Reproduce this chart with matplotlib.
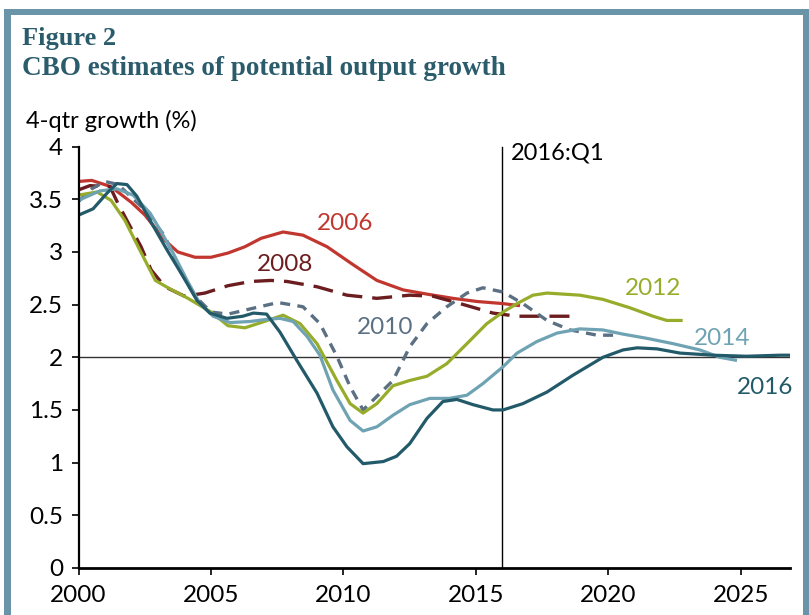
import numpy as np
import matplotlib
matplotlib.use("Agg")
import matplotlib.pyplot as plt
from matplotlib.patches import Rectangle

# CBO potential output growth vintages (4-qtr growth, %)
years_2006 = [2000.0, 2000.5, 2001.23, 2002.0, 2002.51, 2003.26, 2003.75, 2004.4, 2005.0, 2005.64,
              2006.28, 2006.89, 2007.72, 2008.47, 2009.38, 2010.36, 2011.26, 2012.25, 2013.15,
              2014.13, 2015.04, 2016.02, 2016.66]
vals_2006 = [3.67, 3.68, 3.62, 3.47, 3.35, 3.11, 3.00, 2.95, 2.95, 2.99,
             3.05, 3.13, 3.19, 3.16, 3.05, 2.88, 2.73, 2.64, 2.60,
             2.56, 2.53, 2.51, 2.49]

years_2008 = [2000.0, 2000.43, 2001.19, 2001.49, 2001.87, 2002.36, 2002.74, 2003.26, 2004.0, 2004.77,
              2005.64, 2006.5, 2007.26, 2007.87, 2009.0, 2010.13, 2011.26, 2012.5, 2013.38,
              2014.4, 2015.64, 2016.55, 2018.85]
vals_2008 = [3.59, 3.63, 3.62, 3.46, 3.28, 3.05, 2.83, 2.67, 2.58, 2.61,
             2.68, 2.72, 2.73, 2.72, 2.67, 2.59, 2.56, 2.59, 2.58,
             2.51, 2.42, 2.39, 2.39]

years_2010 = [2000.0, 2000.5, 2001.0, 2001.5, 2002.5, 2003.26, 2003.75, 2004.4, 2005.0, 2005.64,
              2006.66, 2007.53, 2008.47, 2009.11, 2009.75, 2010.25, 2010.74, 2011.87, 2012.5,
              2013.15, 2013.9, 2014.66, 2015.26, 2016.02, 2016.77, 2017.68, 2018.55, 2019.57, 2020.43]
vals_2010 = [3.48, 3.60, 3.67, 3.64, 3.40, 3.15, 2.86, 2.58, 2.43, 2.41,
             2.47, 2.52, 2.48, 2.32, 2.01, 1.72, 1.50, 1.78, 2.10,
             2.32, 2.48, 2.61, 2.66, 2.62, 2.51, 2.35, 2.26, 2.21, 2.21]

years_2012 = [2000.0, 2000.7, 2001.23, 2001.75, 2002.25, 2002.9, 2003.38, 2004.13, 2005.0, 2005.64,
              2006.28, 2006.89, 2007.72, 2008.36, 2009.0, 2009.75, 2010.25, 2010.74, 2011.26,
              2011.87, 2012.5, 2013.15, 2013.9, 2014.66, 2015.41, 2016.02, 2016.55, 2017.15,
              2017.68, 2018.92, 2019.79, 2020.81, 2021.68, 2022.2, 2022.8]
vals_2012 = [3.54, 3.57, 3.49, 3.30, 3.05, 2.73, 2.66, 2.56, 2.43, 2.30,
             2.28, 2.33, 2.40, 2.32, 2.13, 1.78, 1.56, 1.47, 1.56,
             1.73, 1.78, 1.82, 1.94, 2.13, 2.32, 2.43, 2.51, 2.59,
             2.61, 2.59, 2.55, 2.47, 2.39, 2.35, 2.35]

years_2014 = [2000.0, 2000.8, 2001.45, 2002.06, 2002.7, 2003.08, 2003.57, 2004.1, 2004.58, 2005.08,
              2005.72, 2006.47, 2007.1, 2007.6, 2008.1, 2008.62, 2009.11, 2009.6, 2010.25,
              2010.74, 2011.26, 2011.87, 2012.5, 2013.26, 2014.0, 2014.66, 2015.26, 2016.02,
              2016.55, 2017.3, 2018.06, 2018.92, 2019.79, 2020.55, 2021.45, 2022.43, 2023.45,
              2024.2, 2024.85]
vals_2014 = [3.49, 3.58, 3.60, 3.54, 3.37, 3.21, 2.99, 2.73, 2.51, 2.39,
             2.33, 2.34, 2.36, 2.37, 2.34, 2.20, 2.02, 1.69, 1.40,
             1.30, 1.34, 1.45, 1.55, 1.61, 1.61, 1.64, 1.75, 1.91,
             2.04, 2.15, 2.23, 2.27, 2.26, 2.22, 2.18, 2.13, 2.07,
             2.00, 1.97]

years_2016 = [2000.0, 2000.55, 2001.08, 2001.45, 2001.83, 2002.2, 2002.7, 2003.34, 2003.94, 2004.47,
              2004.96, 2005.6, 2006.2, 2006.6, 2007.1, 2007.6, 2008.24, 2009.0, 2009.6,
              2010.13, 2010.74, 2011.5, 2012.0, 2012.5, 2013.15, 2013.75, 2014.28, 2014.89,
              2015.64, 2016.02, 2016.77, 2017.68, 2018.66, 2019.79, 2020.55, 2021.08, 2021.83,
              2022.7, 2023.94, 2025.2, 2026.47, 2026.85]
vals_2016 = [3.35, 3.41, 3.56, 3.65, 3.64, 3.53, 3.30, 3.02, 2.77, 2.54,
             2.42, 2.37, 2.39, 2.42, 2.41, 2.24, 1.97, 1.66, 1.34,
             1.15, 0.99, 1.01, 1.06, 1.18, 1.42, 1.58, 1.60, 1.55,
             1.50, 1.50, 1.56, 1.67, 1.83, 2.00, 2.07, 2.09, 2.08,
             2.04, 2.02, 2.01, 2.02, 2.02]

series = [
    ("2006", years_2006, vals_2006, "#c1372f", "-", (2010.06, 3.27)),
    ("2008", years_2008, vals_2008, "#6b1d1f", (0, (6, 3)), (2007.8, 2.88)),
    ("2010", years_2010, vals_2010, "#5b7083", (0, (3, 2.2)), (2011.57, 2.28)),
    ("2012", years_2012, vals_2012, "#97ac2a", "-", (2021.7, 2.65)),
    ("2014", years_2014, vals_2014, "#6fa3b3", "-", (2024.3, 2.18)),
    ("2016", years_2016, vals_2016, "#235a6a", "-", (2025.9, 1.71)),
]

plt.rcParams['font.family'] = ['Lato', 'DejaVu Sans']

fig = plt.figure(figsize=(8.09, 6.15), dpi=100)

# frame around the figure
frame = "#6a95a8"
fig.patches.append(Rectangle((4 / 809, 0), 7 / 809, 1 - 9 / 615, transform=fig.transFigure,
                             facecolor=frame, edgecolor="none"))
fig.patches.append(Rectangle((4 / 809, 1 - 15 / 615), 805 / 809, 6 / 615, transform=fig.transFigure,
                             facecolor=frame, edgecolor="none"))
fig.patches.append(Rectangle((803 / 809, 0), 6 / 809, 1 - 9 / 615, transform=fig.transFigure,
                             facecolor=frame, edgecolor="none"))

title_col = "#2b5c6c"
fig.text(22 / 809, 1 - 27 / 615, "Figure 2", family="Liberation Serif", weight="bold",
         fontsize=19, color=title_col, va="top")
fig.text(22 / 809, 1 - 56 / 615, "CBO estimates of potential output growth", family="Liberation Serif",
         weight="bold", fontsize=19.5, color=title_col, va="top")
fig.text(26 / 809, 1 - 121 / 615, "4-qtr growth (%)", fontsize=17, color="black", va="center")

ax = fig.add_axes([78.5 / 809, 1 - 567.9 / 615, (790 - 78.5) / 809, (567.9 - 146.7) / 615])

for name, xs, ys, col, ls, (lx, ly) in series:
    ax.plot(xs, ys, color=col, linestyle=ls, linewidth=2.3 if ls == "-" else 2.4,
            solid_capstyle="butt", dash_capstyle="butt")
    ax.text(lx, ly, name, color=col, fontsize=17.5, ha="center", va="center")

ax.axhline(2, color="#333333", linewidth=1, zorder=0)
ax.plot([2016, 2016], [0, 4], color="black", linewidth=1, zorder=0, clip_on=False)
ax.text(2016.3, 3.94, "2016:Q1", fontsize=17, ha="left", va="center")

ax.set_xlim(2000, 2026.85)
ax.set_ylim(0, 4)
ax.set_xticks(np.arange(2000, 2026, 5))
ax.set_yticks(np.arange(0, 4.01, 0.5))
ax.set_yticklabels(["0", "0.5", "1", "1.5", "2", "2.5", "3", "3.5", "4"])

for s in ["top", "right"]:
    ax.spines[s].set_visible(False)
ax.spines["left"].set_linewidth(1.6)
ax.spines["bottom"].set_linewidth(2.0)
ax.tick_params(axis="both", direction="out", length=5, width=1.2, labelsize=17.5)
ax.tick_params(axis="x", pad=7)
ax.tick_params(axis="y", pad=6)

fig.savefig("out.png", dpi=100)
